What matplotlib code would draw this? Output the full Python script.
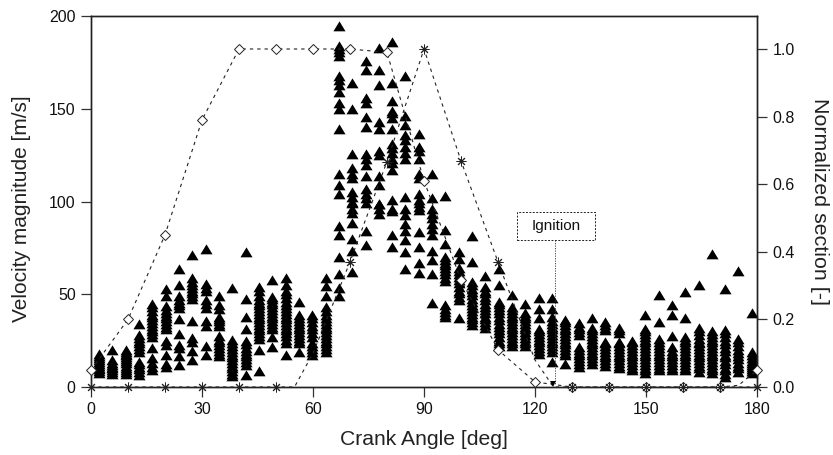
import matplotlib
matplotlib.use("Agg")
import matplotlib.pyplot as plt
from matplotlib.patches import Rectangle

plt.rcParams['font.family'] = ['Liberation Sans', 'DejaVu Sans']

angles = [2.2, 5.8, 9.4, 13.0, 16.6, 20.2, 23.8, 27.4, 31.0, 34.6,
          38.2, 41.8, 45.4, 49.0, 52.6, 56.2, 59.8, 63.4, 67.0, 70.6,
          74.2, 77.8, 81.4, 85.0, 88.6, 92.2, 95.8, 99.4, 103.0, 106.6,
          110.2, 113.8, 117.4, 121.0, 124.6, 128.2, 131.8, 135.4, 139.0, 142.6,
          146.2, 149.8, 153.4, 157.0, 160.6, 164.2, 167.8, 171.4, 175.0, 178.6]

velocity = [
    [7.5, 8.5, 9.5, 10.5, 11.5, 12.5, 13.5, 14.5, 15.5, 16.5, 17.8],
    [7, 8, 9, 10, 11, 12, 13, 14.7, 20],
    [7, 8, 9, 10, 11.5, 13, 14, 15, 16, 17, 18, 19, 20],
    [6.6, 8, 9.5, 11, 12.5, 13.5, 19, 20.5, 22, 23.5, 25, 26.5, 28, 34],
    [9.3, 11, 13, 15.6, 21, 26.8, 28.5, 30, 31.5, 33, 34.5, 36, 37.5, 39, 41, 43, 44.7],
    [11, 12.4, 17, 22.5, 24.6, 31, 32.5, 34, 35.5, 37, 38.5, 40, 41.5, 43.5, 49, 53],
    [11.7, 16.5, 21, 22.8, 28.6, 36.7, 42.6, 44, 45.5, 47, 48.9, 54.8, 63.6],
    [14.7, 19.2, 24.3, 26.4, 35.8, 47.4, 49, 50.5, 52, 53.5, 55, 56.5, 58.8, 71],
    [17, 22.3, 32.7, 35.4, 42.6, 44.5, 46.7, 52, 53.4, 55.5, 74.6],
    [16.5, 18, 19.5, 21, 22.5, 24, 25.5, 27.3, 33, 34, 35.4, 36.5, 37.7, 42, 44.4, 49.2],
    [5.7, 7, 8.5, 10, 11.5, 13, 14.5, 16, 17.5, 19, 20.5, 22, 23.5, 25.5, 53.2],
    [6.3, 12, 13.5, 15, 16.5, 18, 19.5, 21, 23, 24.6, 31, 38, 47.4, 73],
    [8.4, 20, 26, 27.5, 29, 30.5, 32, 33.5, 35, 36.5, 38, 39.5, 41, 42.5, 44, 45.5, 47, 49, 51.6, 53.7],
    [21.4, 27, 31, 32.5, 34, 35.5, 37, 38.5, 40, 41.5, 43, 44.5, 46, 47.5, 48.5, 57.5],
    [17.4, 23.7, 25.5, 27.3, 29, 30.5, 32, 33.5, 35, 36.5, 38, 39.5, 41, 42.5, 44.4, 46, 48, 50, 52, 55, 58.8],
    [19, 23.7, 25, 26.5, 28, 29.5, 31, 32.5, 34, 35.5, 37, 39, 45.6],
    [17.4, 19, 20.5, 22, 23.7, 27, 29, 31, 33, 35, 37, 39],
    [19, 20.5, 22, 23.5, 25, 26.5, 28, 29.5, 31, 32.5, 34, 35.5, 37, 39, 41, 43, 49, 54.4, 59],
    [49, 53.5, 61, 70, 82, 87, 104, 109, 115, 139, 150, 153, 159, 163, 165.5, 167.6,
     178.7, 180.5, 182, 184, 194.6],
    [62, 73.5, 79.6, 88.6, 94, 96, 99, 100, 102.6, 105, 112.5, 115, 118, 125.6, 150, 163.7],
    [76.5, 84, 99.4, 101.7, 104, 107, 114, 119.7, 122.7, 125.6, 140, 145.7, 153, 155.6, 171, 176],
    [93, 96, 98.7, 98.5, 109, 114, 125, 127.4, 139, 143, 163, 171, 183],
    [75.6, 82, 95, 96, 101, 117, 120.5, 123, 126, 128.7, 131, 139, 145, 147.5, 149, 154, 164, 186],
    [63.6, 73, 79, 84, 88, 92.7, 96, 102.6, 122.7, 126, 129.6, 133, 136, 141, 146, 167.6],
    [61.6, 67, 75.6, 83.7, 95.4, 97, 99, 101, 104, 112.5, 115, 123, 127, 129.6, 136.4],
    [45.5, 61, 68.5, 73.5, 82, 85, 88, 91, 93.5, 96, 102, 115],
    [38, 39, 40.4, 42, 44, 57, 59, 61, 62.5, 64, 65.5, 67, 68.5, 70, 77, 84.6, 103],
    [37.4, 47, 48.7, 50.5, 52, 54, 56, 57.7, 59.5, 61, 62.5, 64, 69, 73],
    [33.4, 35, 36.5, 38, 39.5, 41, 42.5, 44, 46, 47.5, 49.6, 51, 53, 55, 56.8, 67.6, 81.4],
    [31.6, 33.5, 35, 36.5, 38, 39.7, 41.5, 43, 45, 47, 48.5, 50.5, 52, 54, 60],
    [22, 23.5, 25, 27, 29, 30.5, 32.5, 34, 36, 38, 39.7, 41.5, 43, 44.5, 46, 54.8, 63.4],
    [22, 23.5, 25, 26.5, 28, 29.5, 31, 32.5, 34, 35.5, 37, 38.5, 40, 41.5, 43, 49.6],
    [22, 23.5, 25, 26.5, 28, 29.5, 31, 32.5, 34, 35.5, 37, 38.5, 40, 45],
    [18, 19.5, 21, 22.5, 24, 25.5, 27, 28.5, 30, 31, 37, 42, 47.8],
    [13.3, 19, 20.5, 22, 23.5, 25, 26.5, 28, 29.5, 31, 32.5, 34, 35.5, 37.6, 42, 47.8],
    [12.4, 17, 18.5, 20, 21.5, 23, 24.5, 26, 27.5, 29, 30.5, 32, 33.5, 35, 36],
    [11, 12.5, 14, 15.5, 17, 18.5, 20, 21.7, 28, 29.5, 31, 32.5, 34.3],
    [12.4, 14, 15.5, 17, 18.5, 20, 21.5, 23, 24.5, 26, 27.5, 29, 30.5, 31.6, 37.4],
    [11.3, 12.8, 14.3, 16, 17.5, 19, 20.5, 22, 23.5, 24.4, 30.7, 32, 33.5, 35],
    [10, 11.5, 13, 14.5, 16, 17.5, 19, 20.5, 22, 23.5, 24.4, 29, 30.5, 32],
    [9, 10.5, 12, 13.5, 15, 16.5, 18, 19.5, 21, 22.5, 24, 24.8],
    [7.4, 9, 10.5, 12, 13.5, 15, 16.5, 18, 19.5, 21, 22.5, 24, 25.5, 27, 28.5, 30, 31, 39],
    [9, 10.5, 12, 13.5, 15, 16.5, 18, 19.5, 21, 22.5, 24, 26, 35, 49.6],
    [9, 10.5, 12, 13.5, 15, 16.5, 18, 19.5, 21.7, 27.5, 39, 44],
    [9, 10.5, 12, 13.5, 15, 16.5, 18, 19.5, 21, 22.5, 24, 25.5, 27, 37, 51.4],
    [8.3, 10, 11.5, 13, 14.5, 16, 17.5, 19, 20.5, 22, 23.5, 24.4, 26, 28, 30, 31.6, 54.8],
    [7.4, 9, 10.5, 12, 13.5, 15, 16.5, 18, 19.5, 21, 22.5, 24, 25.5, 27, 28.5, 30, 71.7],
    [5.6, 7, 9, 10.5, 12.5, 14, 16, 17.5, 19.5, 21, 23, 25, 27, 29, 30.7, 53],
    [8.3, 10, 11.5, 13, 15, 16.5, 18.5, 20, 22, 24, 26, 62.4],
    [7.4, 8.5, 9.5, 11, 12, 13, 14, 15.5, 17, 19, 39.7],
]

section_angle = [0, 10, 20, 30, 40, 50, 60, 70, 80, 90, 100, 110, 120, 130, 140, 150, 160, 170, 175, 180]
section_a = [0.05, 0.2, 0.45, 0.79, 1.0, 1.0, 1.0, 1.0, 0.99, 0.61, 0.317, 0.11, 0.015,
             0, 0, 0, 0, 0, 0.005, 0.05]
section_a_marker_angle = [0, 10, 20, 30, 40, 50, 60, 70, 80, 90, 100, 110, 120, 130, 140, 150, 160, 170, 180]
section_a_marker = [0.05, 0.2, 0.45, 0.79, 1.0, 1.0, 1.0, 1.0, 0.99, 0.61, 0.317, 0.11, 0.015,
                    0, 0, 0, 0, 0, 0.05]

exhaust_angle = [0, 10, 20, 30, 40, 50, 55, 60, 70, 80, 90, 100, 110, 120, 125, 130, 140, 150, 160, 170, 180]
section_b = [0, 0, 0, 0, 0, 0, 0, 0.1, 0.37, 0.667, 1.0, 0.669, 0.37, 0.08, 0, 0, 0, 0, 0, 0, 0]
star_angle = [0, 10, 20, 30, 40, 50, 70, 80, 90, 100, 110, 130, 140, 150, 160, 170, 180]
star_value = [0, 0, 0, 0, 0, 0, 0.37, 0.667, 1.0, 0.669, 0.37, 0, 0, 0, 0, 0, 0]

x_ticks = [0, 30, 60, 90, 120, 150, 180]
y_ticks = [0, 50, 100, 150, 200]
r_ticks = [0.0, 0.2, 0.4, 0.6, 0.8, 1.0]

W, H = 833, 455
fig = plt.figure(figsize=(W / 100, H / 100), dpi=100)
ax = fig.add_axes([91 / W, 1 - 387 / H, (757 - 91) / W, (387 - 16) / H])
ax2 = ax.twinx()

xs, ys = [], []
for a, col in zip(angles, velocity):
    xs += [a] * len(col)
    ys += col

ax.set_zorder(2)
ax2.set_zorder(3)
ax2.patch.set_visible(False)

wide_triangle = [(-1, -0.8), (1, -0.8), (0, 0.85)]
ax.plot(xs, ys, ls='none', marker=wide_triangle, ms=8.7, mfc='black', mec='black', mew=0, zorder=3, clip_on=False)

ax2.plot(section_angle, section_a, color='#222222', lw=0.8, dashes=(3, 3.6), zorder=1)
ax2.plot(exhaust_angle, section_b, color='#222222', lw=0.8, dashes=(3, 3.6), zorder=1)
ax2.plot(section_a_marker_angle, section_a_marker, ls='none', marker='D', ms=5.6, mfc='white',
         mec='#222222', mew=0.7, zorder=4, clip_on=False)
ax2.plot(star_angle, star_value, ls='none', marker=(8, 2, 0), ms=7, mec='#222222', mew=0.7,
         zorder=5, clip_on=False)

ax.set_xlim(0, 180)
ax.set_ylim(0, 200)
ax2.set_ylim(0, 1.0976)
ax.set_xticks(x_ticks)
ax.set_yticks(y_ticks)
ax2.set_yticks(r_ticks)
ax2.set_yticklabels([f'{v:.1f}' for v in r_ticks])

for a in (ax, ax2):
    a.tick_params(axis='both', direction='out', length=7, width=0.9, color='#333333',
                  labelsize=11.5, labelcolor='#111111', pad=4)
    for s in a.spines.values():
        s.set_linewidth(1.0)
        s.set_color('#222222')

ax.set_xlabel('Crank Angle [deg]', fontsize=15.2, color='#222222', labelpad=9)
ax.set_ylabel('Velocity magnitude [m/s]', fontsize=15, color='#222222', labelpad=13, y=0.48)
ax2.set_ylabel('Normalized section [-]', fontsize=15.4, color='#222222', rotation=270, labelpad=25)

ax2.add_patch(Rectangle((115.1, 0.435), 21.1, 0.083, fc='white', ec='#222222', lw=0.7,
                        ls=(0, (2, 1.5)), zorder=6))
ax2.text(125.7, 0.477, 'Ignition', ha='center', va='center', fontsize=11, color='#111111', zorder=7)
ax2.plot([125.4, 125.4], [0.435, 0.01], color='#333333', lw=0.6, ls=(0, (1.5, 1.5)), zorder=6)
ax2.plot([125.0], [0.01], ls='none', marker='v', ms=5, mfc='black', mec='black', mew=0, zorder=6)

fig.savefig('out.png', dpi=100)
